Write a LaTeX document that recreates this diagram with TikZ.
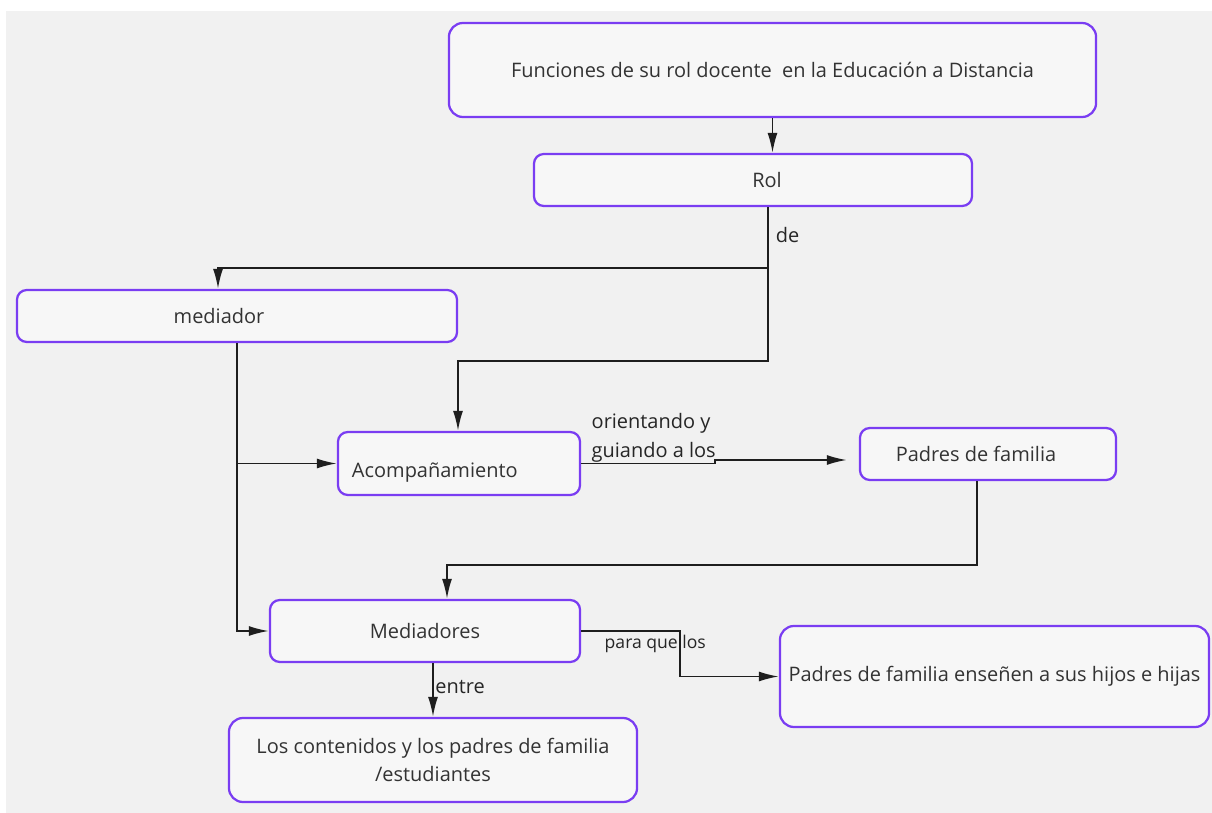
\documentclass[tikz,border=0pt]{standalone}
\usepackage{fontspec}
\setmainfont{Open Sans}
\usetikzlibrary{arrows.meta,positioning,calc}

\definecolor{borde}{HTML}{7A3DF2}
\definecolor{fondo}{HTML}{F1F1F1}
\definecolor{linea}{HTML}{1E1E1E}

\begin{document}
\begin{tikzpicture}[x=0.025cm,y=-0.025cm]
	\tikzstyle{Caja}	= [draw=borde, line width=1.6pt, rounded corners=7pt, fill=fondo!60!white, inner sep=2pt, text=black!80, font=\fontsize{14.2}{20}\selectfont]
	\tikzstyle{Grande}	= [rounded corners=10pt]
	\tikzstyle{Flecha}	= [-{Latex[length=5mm,width=2.5mm]}, line width=1.3pt, linea]
	\tikzstyle{Texto}	= [inner sep=2pt, text=black!85, font=\fontsize{14.2}{20.5}\selectfont]
	\tikzstyle{Chico}	= [inner sep=2pt, text=black!85, font=\fontsize{12.5}{14}\selectfont]

	\useasboundingbox (0,0) rectangle (1212,813);
	\fill[white] (-10,-10) rectangle (1230,830);
	\fill[fondo] (6,11) rectangle (1230,830);

	\node (fun) at (772.5, 70) [Caja][Grande, minimum width=16.175cm, minimum height=2.35cm] {Funciones de su rol docente\ \ en la Educación a Distancia};
	\node (rol) at (753, 180) [Caja][minimum width=10.95cm, minimum height=1.3cm] {\hspace*{0.7cm}Rol};
	\node (med) at (237, 316) [Caja][minimum width=11cm, minimum height=1.3cm] {mediador\hspace*{0.9cm}};
	\node (aco) at (459, 463.5) [Caja][minimum width=6.05cm, minimum height=1.575cm, text width=5.35cm, align=left, inner xsep=0.35cm, text height=0.8cm, text depth=0.1cm] {Acompañamiento};
	\node (pad) at (988, 454) [Caja][minimum width=6.4cm, minimum height=1.3cm] {Padres de familia\hspace*{0.6cm}};
	\node (mds) at (425, 631) [Caja][minimum width=7.75cm, minimum height=1.55cm] {Mediadores};
	\node (ens) at (994.5, 676.5) [Caja][Grande, minimum width=10.725cm, minimum height=2.525cm] {Padres de familia enseñen a sus hijos e hijas};
	\node (los) at (433, 760) [Caja][Grande, minimum width=10.2cm, minimum height=2.1cm, align=center] {Los contenidos y los padres de familia\\/estudiantes};

	\coordinate (k1) at (768, 268);
	\coordinate (k2) at (218, 268);
	\coordinate (k3) at (768, 361);
	\coordinate (k4) at (458, 361);
	\coordinate (k5) at (715, 463.5);
	\coordinate (k6) at (715, 460);
	\coordinate (k7) at (977, 565);
	\coordinate (k8) at (447, 565);
	\coordinate (k9) at (680, 631);

	\draw [Flecha] (fun) to (fun |- rol.north);
	\draw [Flecha] (rol.south -| k1) to node [Texto, right, xshift=3pt, yshift=2pt] {de} (k1) -- (k2) -- (med.north -| k2);
	\draw [Flecha] (k1) -- (k3) -- (k4) -- (aco.north -| k4);
	\draw [Flecha] (med.south) |- (mds.west);
	\draw [Flecha] (med.south |- aco.west) to (aco.west);
	\draw [Flecha, shorten >=0.3cm] (aco.east) to node [Texto, above, align=left, inner sep=0pt, xshift=4pt] {orientando y\\guiando a los} (k5) -- (k6) -- (pad.west |- k6);
	\draw [Flecha] (pad.south -| k7) -- (k7) -- (k8) -- (mds.north -| k8);
	\draw [Flecha] (mds.east) to node [Chico, below, pos=0.75] {para que los} (k9) |- (ens.west);
	\draw [Flecha] (mds.south -| los) to node [Texto, right, pos=0.45, inner sep=1pt] {entre} (los.north);
\end{tikzpicture}
\end{document}
